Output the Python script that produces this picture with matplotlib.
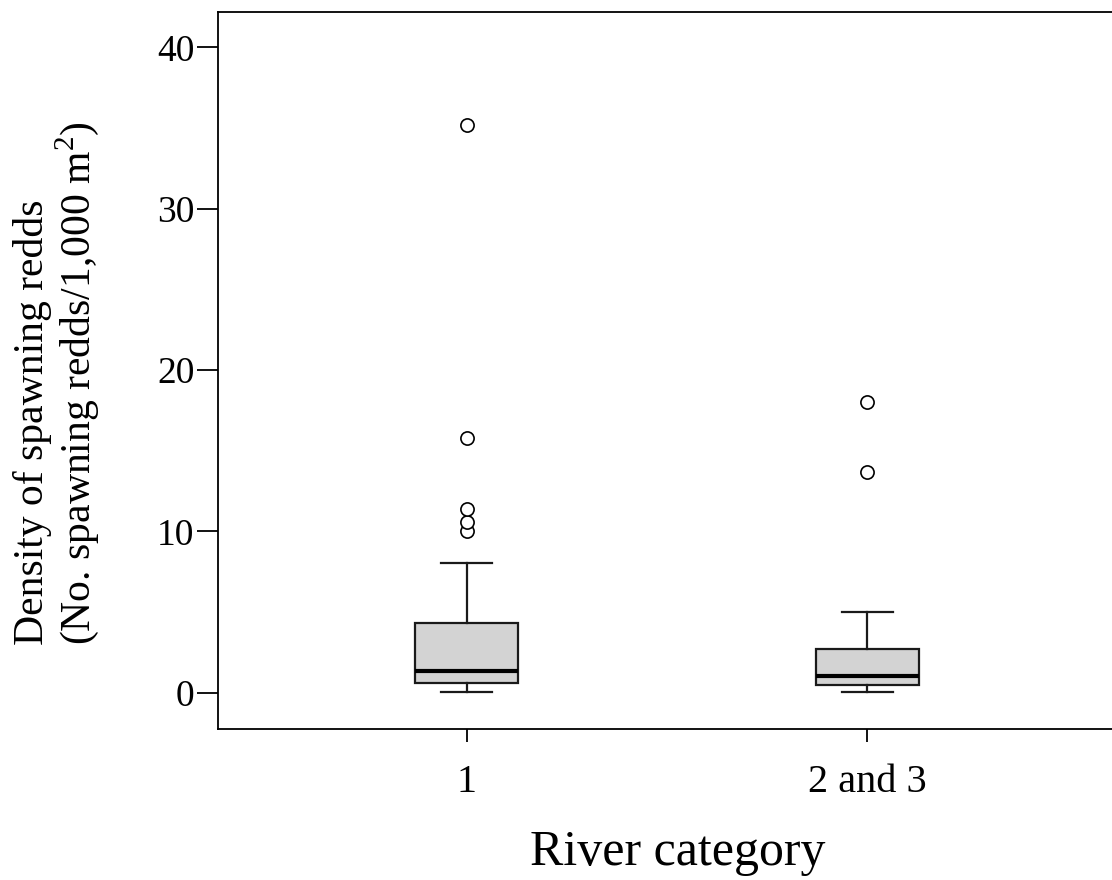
import matplotlib
matplotlib.use('Agg')
import matplotlib.pyplot as plt

plt.rcParams['font.family'] = ['Liberation Serif', 'DejaVu Serif']
plt.rcParams['mathtext.fontset'] = 'custom'
plt.rcParams['mathtext.rm'] = 'Liberation Serif'

categories = ['1', '2 and 3']
q1 = [0.62, 0.50]
med = [1.36, 1.05]
q3 = [4.30, 2.73]
whislo = [0.06, 0.06]
whishi = [8.05, 5.0]
outliers = [[10.0, 10.6, 11.4, 15.8, 35.2], [13.7, 18.0]]

stats = []
for i, c in enumerate(categories):
    stats.append(dict(label=c, q1=q1[i], med=med[i], q3=q3[i],
                      whislo=whislo[i], whishi=whishi[i], fliers=outliers[i]))

fig = plt.figure(figsize=(11.12, 8.8), dpi=100)
ax = fig.add_axes([218 / 1112, 1 - 729 / 880, 898 / 1112, 717 / 880])

ax.bxp(stats, positions=[1, 2], widths=0.255, patch_artist=True,
       boxprops=dict(facecolor='#d3d3d3', edgecolor='#1a1a1a', linewidth=1.6),
       medianprops=dict(color='black', linewidth=3),
       whiskerprops=dict(color='#1a1a1a', linewidth=1.6),
       capprops=dict(color='#1a1a1a', linewidth=1.6),
       capwidths=0.125,
       flierprops=dict(marker='o', markersize=9.5, markerfacecolor='white',
                       markeredgecolor='black', markeredgewidth=1.2))

ax.set_xlim(0.38, 2.62)
ax.set_ylim(-2.25, 42.2)
ax.set_yticks([0, 10, 20, 30, 40])
ax.tick_params(axis='y', length=15, width=1.3, labelsize=27, pad=2)
ax.tick_params(axis='x', length=9, width=1.3, labelsize=29, pad=16)
for s in ax.spines.values():
    s.set_linewidth(1.3)

ax.set_xlabel('River category', fontsize=36)
ax.xaxis.set_label_coords(0.512, -0.140, transform=ax.transAxes)
ax.xaxis.label.set_va('top')

fig.text(57 / 1112, 1 - 383 / 880,
         'Density of spawning redds\n(No. spawning redds/1,000 m$^2$)',
         rotation=90, ha='center', va='center', multialignment='left',
         fontsize=30, linespacing=1.05)

fig.savefig('out.png', dpi=100)
